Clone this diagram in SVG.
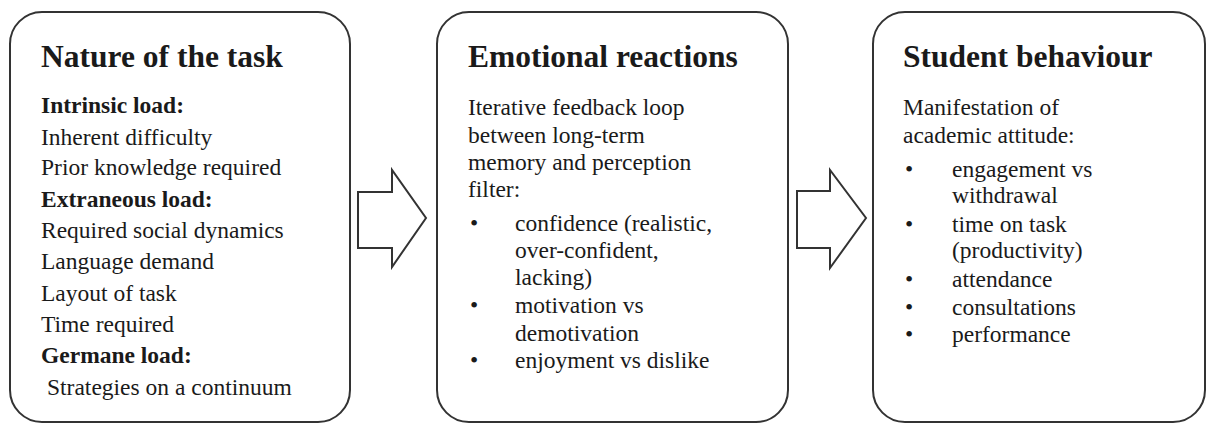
<svg xmlns="http://www.w3.org/2000/svg" width="1208" height="425" viewBox="0 0 1208 425">
<style>
.box{fill:#fff;stroke:#333;stroke-width:2}
.arr{fill:#fff;stroke:#333;stroke-width:2;stroke-linejoin:miter}
text{font-family:"Liberation Serif","Times New Roman",serif;fill:#1a1a1a}
.t{font-size:31.5px;font-weight:bold}
.b{font-size:23.5px}
.h{font-size:23.5px;font-weight:bold}
</style>
<rect width="1208" height="425" fill="#fff"/>
<g id="connectors">
<path class="arr" d="M358,192 H392 V170 L426,218 L392,267 V248 H358 Z"/>
<path class="arr" d="M797,191 H830 V170 L866,218 L830,268 V248 H797 Z"/>
</g>
<g id="node-task">
<rect class="box" x="10" y="12" width="340" height="410" rx="32"/>
<text class="t" x="41" y="67">Nature of the task</text>
<text class="h" x="41" y="113">Intrinsic load:</text>
<text class="b" x="41" y="145">Inherent difficulty</text>
<text class="b" x="41" y="175">Prior knowledge required</text>
<text class="h" x="41" y="207">Extraneous load:</text>
<text class="b" x="41" y="238">Required social dynamics</text>
<text class="b" x="41" y="269">Language demand</text>
<text class="b" x="41" y="301">Layout of task</text>
<text class="b" x="41" y="332">Time required</text>
<text class="h" x="41" y="363">Germane load:</text>
<text class="b" x="47" y="395">Strategies on a continuum</text>
</g>
<g id="node-emotional">
<rect class="box" x="437" y="12" width="351" height="410" rx="32"/>
<text class="t" x="468" y="67">Emotional reactions</text>
<text class="b" x="468" y="115">Iterative feedback loop</text>
<text class="b" x="468" y="143">between long-term</text>
<text class="b" x="468" y="170">memory and perception</text>
<text class="b" x="468" y="197">filter:</text>
<text class="b" x="470" y="231">•</text>
<text class="b" x="515" y="231">confidence (realistic,</text>
<text class="b" x="515" y="258">over-confident,</text>
<text class="b" x="515" y="285">lacking)</text>
<text class="b" x="470" y="313">•</text>
<text class="b" x="515" y="313">motivation vs</text>
<text class="b" x="515" y="341">demotivation</text>
<text class="b" x="470" y="368">•</text>
<text class="b" x="515" y="368">enjoyment vs dislike</text>
</g>
<g id="node-behaviour">
<rect class="box" x="873" y="12" width="332" height="410" rx="32"/>
<text class="t" x="903" y="67">Student behaviour</text>
<text class="b" x="903" y="115">Manifestation of</text>
<text class="b" x="903" y="143">academic attitude:</text>
<text class="b" x="905" y="177">•</text>
<text class="b" x="952" y="177">engagement vs</text>
<text class="b" x="952" y="203">withdrawal</text>
<text class="b" x="905" y="232">•</text>
<text class="b" x="952" y="232">time on task</text>
<text class="b" x="952" y="258">(productivity)</text>
<text class="b" x="905" y="287">•</text>
<text class="b" x="952" y="287">attendance</text>
<text class="b" x="905" y="315">•</text>
<text class="b" x="952" y="315">consultations</text>
<text class="b" x="905" y="342">•</text>
<text class="b" x="952" y="342">performance</text>
</g>
</svg>
